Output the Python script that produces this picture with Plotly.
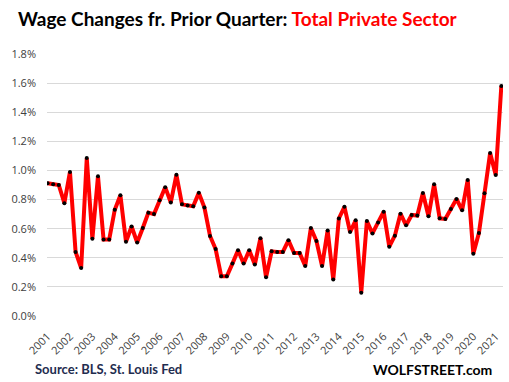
import plotly.graph_objects as go

years = list(range(2001, 2022))
quarter_index = list(range(82))
wage_change = [
    0.912, 0.906, 0.90, 0.775, 0.99, 0.44, 0.33, 1.085, 0.53, 0.96,
    0.525, 0.525, 0.73, 0.83, 0.51, 0.615, 0.505, 0.605, 0.71, 0.70,
    0.795, 0.885, 0.78, 0.97, 0.767, 0.76, 0.754, 0.846, 0.745, 0.55,
    0.46, 0.273, 0.273, 0.36, 0.452, 0.36, 0.452, 0.354, 0.535, 0.266,
    0.444, 0.44, 0.44, 0.52, 0.432, 0.432, 0.343, 0.604, 0.515, 0.343,
    0.588, 0.25, 0.67, 0.75, 0.577, 0.657, 0.16, 0.652, 0.567, 0.643,
    0.717, 0.476, 0.552, 0.703, 0.623, 0.694, 0.69, 0.845, 0.685, 0.905,
    0.671, 0.667, 0.735, 0.804, 0.726, 0.935, 0.428, 0.57, 0.843, 1.12,
    0.968, 1.58,
]
y_ticks = [0.0, 0.2, 0.4, 0.6, 0.8, 1.0, 1.2, 1.4, 1.6, 1.8]
y_tick_text = [f"{v:.1f}%" for v in y_ticks]
x_tick_vals = [4 * k for k in range(len(years))]
x_tick_text = [str(y) for y in years]

fig = go.Figure()
fig.add_trace(go.Scatter(
    x=quarter_index, y=wage_change, mode="lines+markers",
    line=dict(color="#FF0000", width=4),
    marker=dict(color="black", size=4),
    hoverinfo="skip",
))

fig.update_layout(
    width=509, height=382,
    margin=dict(l=47, r=6, t=54, b=66),
    paper_bgcolor="white", plot_bgcolor="white",
    showlegend=False,
    font=dict(family="Open Sans, sans-serif", color="#404040"),
    xaxis=dict(
        range=[-0.1, 81.3], tickvals=x_tick_vals, ticktext=x_tick_text,
        tickangle=-45, showgrid=False, zeroline=False, showline=False,
        tickfont=dict(size=11, color="#404040"), ticks="",
        ticklabelstandoff=11,
    ),
    yaxis=dict(
        range=[0, 1.8], tickvals=y_ticks, ticktext=y_tick_text,
        showgrid=True, gridcolor="#D9D9D9", gridwidth=1, zeroline=False,
        showline=False, tickfont=dict(size=11, color="#404040"), ticks="",
        ticklabelstandoff=10,
    ),
    annotations=[
        dict(text="<b>Wage Changes fr. Prior Quarter: <span style='color:#FF0000'>Total Private Sector</span></b>",
             xref="paper", yref="paper", x=-0.068, y=1.0, xanchor="left", yanchor="bottom",
             yshift=22, showarrow=False,
             font=dict(family="Lato, sans-serif", size=19, color="black")),
        dict(text="<b>Source: BLS, St. Louis Fed</b>", xref="paper", yref="paper",
             x=-0.031, y=0, xanchor="left", yanchor="middle", yshift=-53, showarrow=False,
             font=dict(family="Lato, sans-serif", size=13, color="#1F2D4F")),
        dict(text="<b>WOLFSTREET.com</b>", xref="paper", yref="paper",
             x=0.98, y=0, xanchor="right", yanchor="middle", yshift=-53, showarrow=False,
             font=dict(family="Lato, sans-serif", size=14, color="black")),
    ],
)

fig.write_html("out.html", config={"displayModeBar": False, "staticPlot": True},
               post_script="document.body.style.margin='0';document.body.style.overflow='hidden';")
